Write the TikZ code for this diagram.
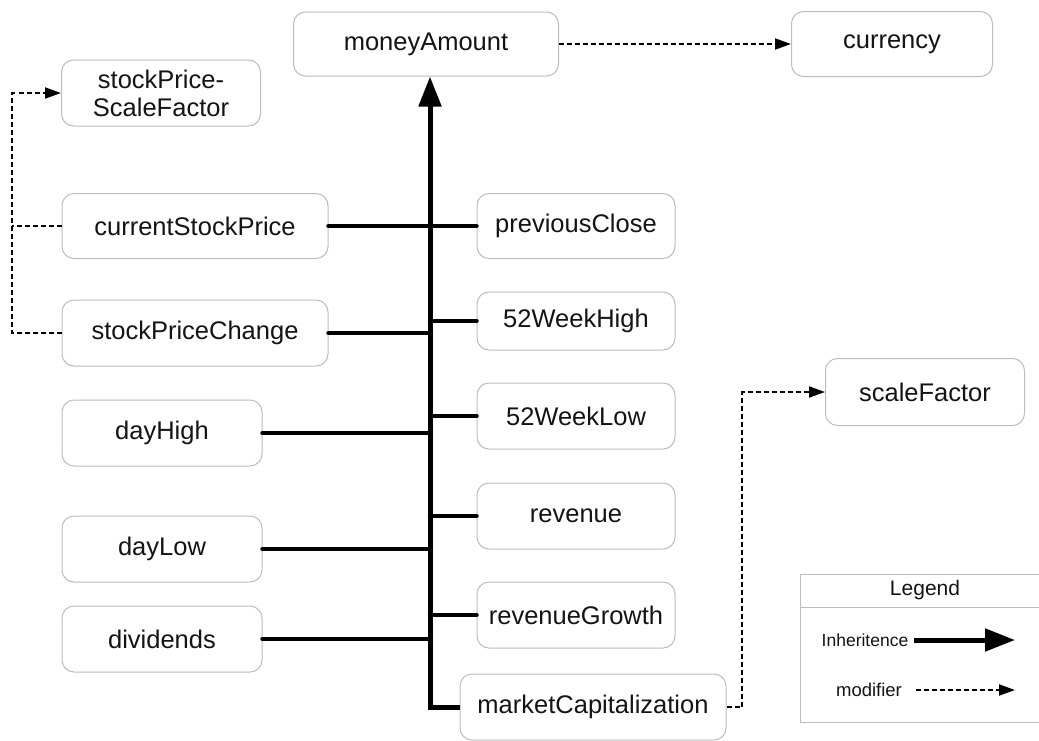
\documentclass[tikz,border=0pt]{standalone}
\usepackage{fontspec}
\setmainfont{Liberation Sans}
\usetikzlibrary{arrows.meta}
\definecolor{boxgray}{HTML}{BDBDBD}
\definecolor{txt}{HTML}{141414}
\tikzset{
  box/.style={draw=boxgray, line width=1pt, rounded corners=12pt, fill=white,
    inner sep=0pt, text=txt, font=\fontsize{25.5}{28}\selectfont, align=center},
  inh/.style={line width=4.5pt, line cap=round},
  trunkline/.style={line width=5pt, line join=miter, -{Triangle[length=30pt,width=22pt]}},
  modif/.style={line width=2pt, dash pattern=on 5pt off 3pt, -{Triangle[length=16pt,width=11pt]}},
  modifplain/.style={line width=2pt, dash pattern=on 5pt off 3pt},
  legline/.style={draw=boxgray, line width=1pt},
}
\begin{document}
\begin{tikzpicture}[x=1pt,y=-1pt]
\useasboundingbox (0,0) rectangle (1039,740);
% nodes
\node[box, minimum width=265pt, minimum height=64pt] (ma) at (426,44) {moneyAmount};
\node[box, minimum width=201pt, minimum height=65pt] (cur) at (892,44) {currency};
\node[box, minimum width=199pt, minimum height=66pt] (spsf) at (161,93) {stockPrice-\\ScaleFactor};
\node[box, minimum width=266pt, minimum height=65pt] (csp) at (195,226) {currentStockPrice};
\node[box, minimum width=266pt, minimum height=66pt] (spc) at (195,333) {stockPriceChange};
\node[box, minimum width=200pt, minimum height=66pt] (dh) at (162,433) {dayHigh};
\node[box, minimum width=200pt, minimum height=66pt] (dl) at (162,549) {dayLow};
\node[box, minimum width=200pt, minimum height=66pt] (dv) at (162,639) {dividends};
\node[box, minimum width=198pt, minimum height=65pt] (pc) at (576,226) {previousClose};
\node[box, minimum width=198pt, minimum height=58pt] (wh) at (576,321) {52WeekHigh};
\node[box, minimum width=198pt, minimum height=66pt] (wl) at (576,416) {52WeekLow};
\node[box, minimum width=198pt, minimum height=66pt] (rv) at (576,516) {revenue};
\node[box, minimum width=198pt, minimum height=66pt] (rg) at (576,615) {revenueGrowth};
\node[box, minimum width=266pt, minimum height=66pt] (mc) at (593,707) {marketCapitalization};
\node[box, minimum width=199pt, minimum height=67pt] (sf) at (925,392) {scaleFactor};
% trunk
\coordinate (tb) at (430,707);
\draw[trunkline] (mc.west) -- (tb) -- (tb |- ma.south);
% branches
\draw[inh] (csp.east) -- (pc.west);
\draw[inh] (spc.east) -- (spc.east -| tb);
\draw[inh] (wh.west) -- (wh.west -| tb);
\draw[inh] (dh.east) -- (dh.east -| tb);
\draw[inh] (wl.west) -- (wl.west -| tb);
\draw[inh] (dl.east) -- (dl.east -| tb);
\draw[inh] (rv.west) -- (rv.west -| tb);
\draw[inh] (dv.east) -- (dv.east -| tb);
\draw[inh] (rg.west) -- (rg.west -| tb);
% modifiers
\draw[modif] (ma.east) -- (cur.west);
\coordinate (lx) at (12,0);
\draw[modifplain] (csp.west) -- (csp.west -| lx);
\draw[modif] (spc.west) -- (spc.west -| lx) -- (spsf.west -| lx) -- (spsf.west);
\coordinate (rx) at (742,0);
\draw[modif] (mc.east) -- (mc.east -| rx) -- (sf.west -| rx) -- (sf.west);
% legend
\draw[legline] (1045,574) -- (800,574) -- (800,722) -- (1045,722);
\draw[legline] (800,607) -- (1045,607);
\node[text=txt, font=\fontsize{21}{24}\selectfont] (lg) at (925,590) {Legend};
\node[text=txt, font=\fontsize{17.5}{20}\selectfont, inner sep=0pt] (li) at (865,640) {Inheritence};
\coordinate (lia) at (1015,640);
\draw[line width=5pt, -{Triangle[length=30pt,width=22pt]}] (li.east) ++(5,0) -- (lia);
\node[text=txt, font=\fontsize{18.5}{20}\selectfont, inner sep=0pt] (lm) at (869,690) {modifier};
\coordinate (lma) at (1015,690);
\draw[modif] (lm.east) ++(14,0) -- (lma);
\end{tikzpicture}
\end{document}
